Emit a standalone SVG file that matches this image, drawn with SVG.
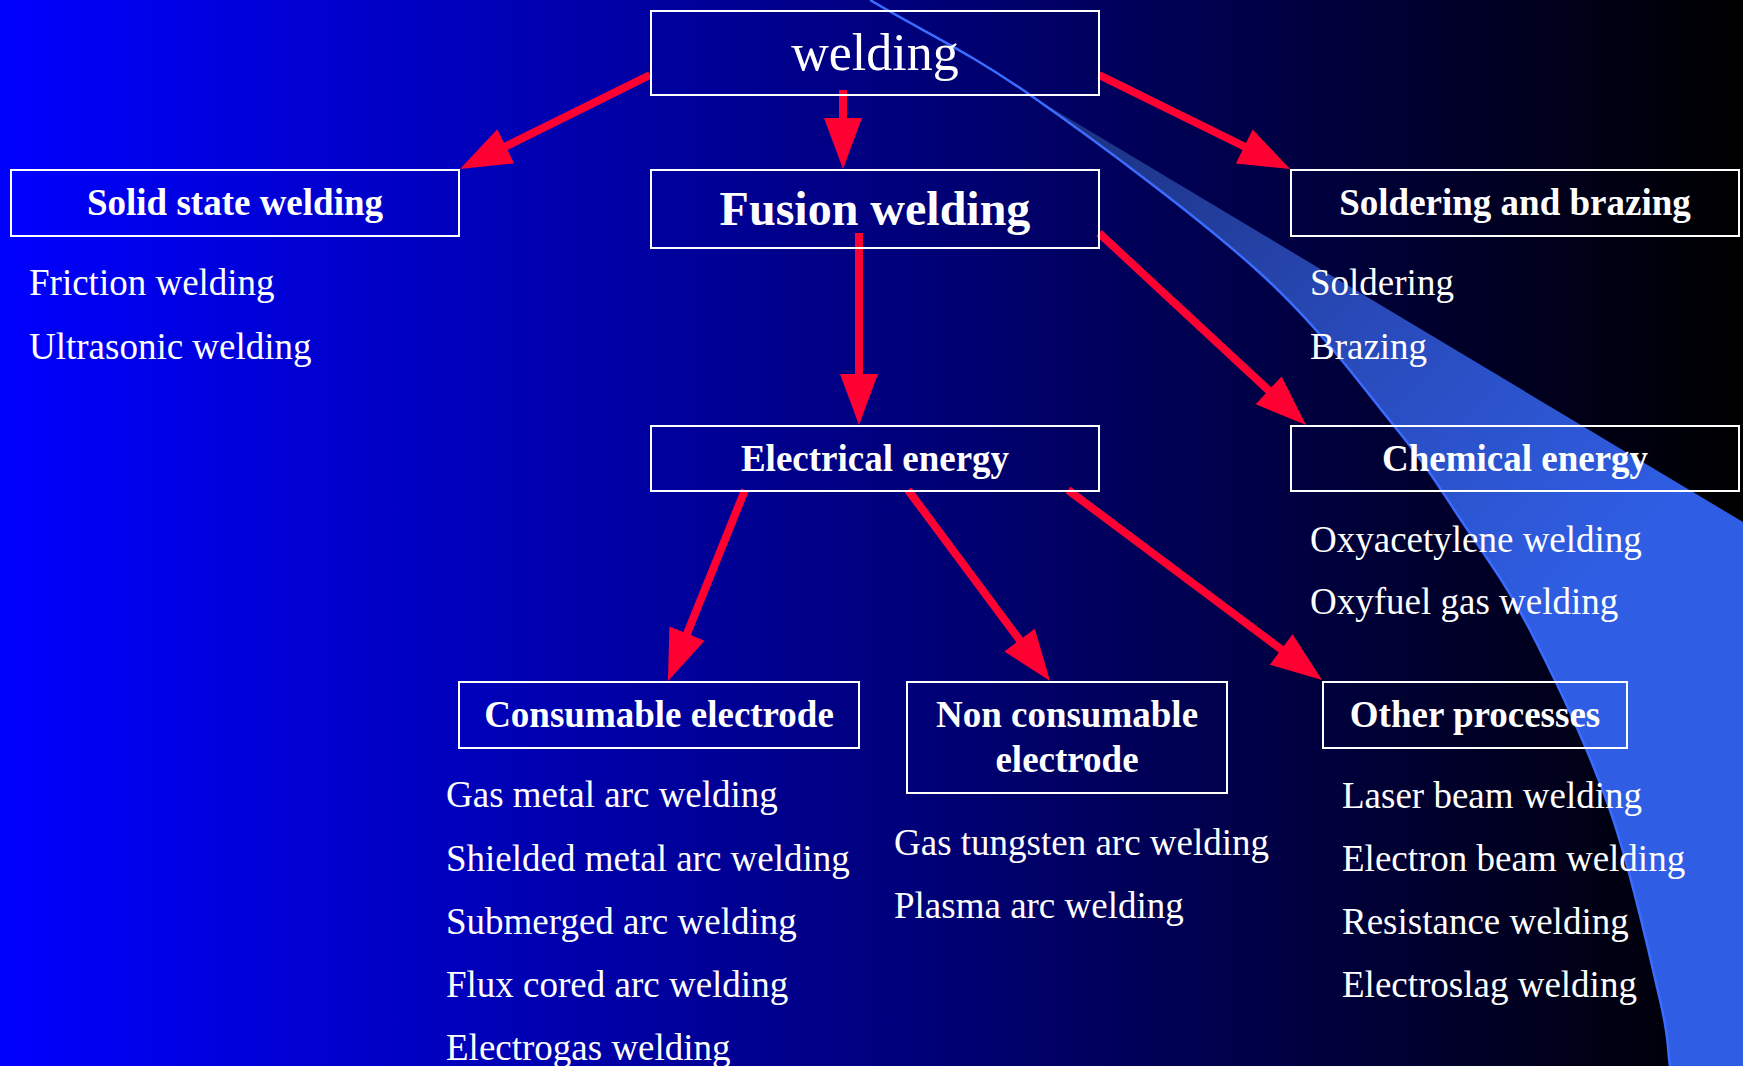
<svg xmlns="http://www.w3.org/2000/svg" width="1743" height="1066" viewBox="0 0 1743 1066">
<defs>
<linearGradient id="bg" x1="0" y1="0" x2="1743" y2="0" gradientUnits="userSpaceOnUse">
<stop offset="0" stop-color="#0000ff"/>
<stop offset="1" stop-color="#000000"/>
</linearGradient>
<linearGradient id="sw" x1="1062" y1="115" x2="1560" y2="620" gradientUnits="userSpaceOnUse">
<stop offset="0" stop-color="#1c3280"/>
<stop offset="0.5" stop-color="#2849b8"/>
<stop offset="1" stop-color="#2f5ee4"/>
</linearGradient>
<marker id="ah" markerUnits="userSpaceOnUse" markerWidth="52" markerHeight="38" viewBox="0 0 52 38" refX="26" refY="19" orient="auto" overflow="visible">
<path d="M0,0 L51,19 L0,38 Z" fill="#ff0033"/>
</marker>
</defs>
<style>
.box{fill:none;stroke:#ffffff;stroke-width:2}
.lbl{font-family:"Liberation Serif","Times New Roman",serif;font-weight:bold;font-size:37px;fill:#ffffff;text-anchor:middle}
.item{font-family:"Liberation Serif","Times New Roman",serif;font-size:37px;fill:#ffffff}
.arr{stroke:#ff0033;stroke-width:8;fill:none;marker-end:url(#ah)}
</style>
<rect x="0" y="0" width="1743" height="1066" fill="url(#bg)"/>
<g id="swoosh">
<path d="M1033,97 C1098,142.5 1199.7,218 1260,273 C1320.3,328 1361.5,385.8 1395,427 C1428.5,468.2 1438.5,486.2 1461,520 C1483.5,553.8 1505.2,581.7 1530,630 C1554.8,678.3 1588.3,748.3 1610,810 C1631.7,871.7 1650,957.3 1660,1000 C1670,1042.7 1666.7,1044 1670,1066 L1743,1066 L1743,522 Z" fill="url(#sw)"/>
<path d="M870,0 C924.3,32.3 968,51.5 1033,97 C1098,142.5 1199.7,218 1260,273 C1320.3,328 1361.5,385.8 1395,427 C1428.5,468.2 1438.5,486.2 1461,520 C1483.5,553.8 1505.2,581.7 1530,630 C1554.8,678.3 1588.3,748.3 1610,810 C1631.7,871.7 1650,957.3 1660,1000 C1670,1042.7 1666.7,1044 1670,1066" fill="none" stroke="#3b6cff" stroke-width="2.5"/>
</g>
<g id="connectors">
<line class="arr" x1="650" y1="75" x2="482.4" y2="157.9"/>
<line class="arr" x1="843" y1="90" x2="843" y2="144"/>
<line class="arr" x1="1099" y1="75" x2="1267.6" y2="158"/>
<line class="arr" x1="859" y1="233" x2="859" y2="400"/>
<line class="arr" x1="1099" y1="233" x2="1287.7" y2="408"/>
<line class="arr" x1="745" y1="490" x2="677.3" y2="657.8"/>
<line class="arr" x1="908" y1="490" x2="1035.1" y2="660.9"/>
<line class="arr" x1="1068" y1="490" x2="1302" y2="665"/>
</g>
<g id="n-welding">
<rect class="box" x="651" y="11" width="448" height="84"/>
<text x="875" y="70" font-family="Liberation Serif, Times New Roman, serif" font-size="52" fill="#ffffff" text-anchor="middle">welding</text>
</g>
<g id="n-solid">
<rect class="box" x="11" y="170" width="448" height="66"/>
<text class="lbl" x="235" y="215">Solid state welding</text>
<text class="item" x="29" y="295">Friction welding</text>
<text class="item" x="29" y="359">Ultrasonic welding</text>
</g>
<g id="n-fusion">
<rect class="box" x="651" y="170" width="448" height="78"/>
<text class="lbl" x="875" y="225" style="font-size:48px">Fusion welding</text>
</g>
<g id="n-soldering">
<rect class="box" x="1291" y="170" width="448" height="66"/>
<text class="lbl" x="1515" y="215">Soldering and brazing</text>
<text class="item" x="1310" y="295">Soldering</text>
<text class="item" x="1310" y="359">Brazing</text>
</g>
<g id="n-electrical">
<rect class="box" x="651" y="426" width="448" height="65"/>
<text class="lbl" x="875" y="471">Electrical energy</text>
</g>
<g id="n-chemical">
<rect class="box" x="1291" y="426" width="448" height="65"/>
<text class="lbl" x="1515" y="471">Chemical energy</text>
<text class="item" x="1310" y="552">Oxyacetylene welding</text>
<text class="item" x="1310" y="614">Oxyfuel gas welding</text>
</g>
<g id="n-consumable">
<rect class="box" x="459" y="682" width="400" height="66"/>
<text class="lbl" x="659" y="727">Consumable electrode</text>
<text class="item" x="446" y="807">Gas metal arc welding</text>
<text class="item" x="446" y="871">Shielded metal arc welding</text>
<text class="item" x="446" y="934">Submerged arc welding</text>
<text class="item" x="446" y="997">Flux cored arc welding</text>
<text class="item" x="446" y="1060">Electrogas welding</text>
</g>
<g id="n-nonconsumable">
<rect class="box" x="907" y="682" width="320" height="111"/>
<text class="lbl" x="1067" y="727">Non consumable</text>
<text class="lbl" x="1067" y="772">electrode</text>
<text class="item" x="894" y="855">Gas tungsten arc welding</text>
<text class="item" x="894" y="918">Plasma arc welding</text>
</g>
<g id="n-other">
<rect class="box" x="1323" y="682" width="304" height="66"/>
<text class="lbl" x="1475" y="727">Other processes</text>
<text class="item" x="1342" y="808">Laser beam welding</text>
<text class="item" x="1342" y="871">Electron beam welding</text>
<text class="item" x="1342" y="934">Resistance welding</text>
<text class="item" x="1342" y="997">Electroslag welding</text>
</g>
</svg>
